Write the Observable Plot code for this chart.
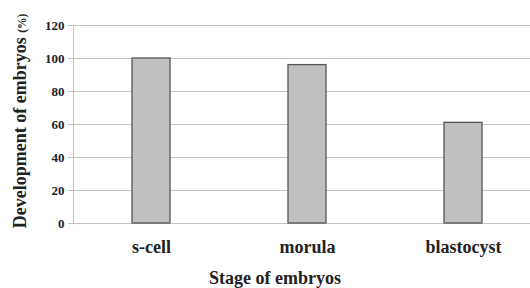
<!DOCTYPE html>
<html>
<head>
<meta charset="utf-8">
<script src="https://cdn.jsdelivr.net/npm/d3@7"></script>
<script src="https://cdn.jsdelivr.net/npm/@observablehq/plot@0.6"></script>
<style>
  html, body { margin: 0; padding: 0; background: #fff; }
  #chart svg { display: block; }
  #chart svg text { font-family: 'Liberation Serif', 'Times New Roman', serif !important; }
</style>
</head>
<body>
<div id="chart"></div>
<script>
const stages = ["s-cell", "morula", "blastocyst"];
const development = [100, 96, 61];
const yTicks = [0, 20, 40, 60, 80, 100, 120];
const yTitle = "Development of embryos";
const yUnit = "(%)";
const xTitle = "Stage of embryos";

const data = stages.map((s, i) => ({stage: s, value: development[i]}));
const serif = "'Liberation Serif', 'Times New Roman', serif";
const gridColor = "#c4c4c4";

const chart = Plot.plot({
  width: 530,
  height: 288,
  marginTop: 25,
  marginBottom: 65,
  marginLeft: 73,
  marginRight: 0,
  style: {fontFamily: serif, background: "#fff"},
  x: {domain: stages, range: [73, 541], paddingInner: 0.756, paddingOuter: 0.378},
  y: {domain: [0, 120], ticks: yTicks},
  marks: [
    Plot.gridY(yTicks, {stroke: gridColor, strokeOpacity: 1, strokeWidth: 1}),
    Plot.frame({anchor: "left", stroke: gridColor, strokeWidth: 1}),
    Plot.axisY(yTicks, {
      tickSize: 5, tickPadding: 4, stroke: gridColor, strokeOpacity: 1,
      fontSize: 13, fontWeight: "bold", fontFamily: serif, fill: "#222", label: null
    }),
    Plot.axisX({
      tickSize: 0, tickPadding: 17, fontSize: 18, fontWeight: "bold",
      fontFamily: serif, fill: "#222", label: null
    }),
    Plot.barY(data, {x: "stage", y: "value", fill: "#c0c0c0", stroke: "#555", strokeWidth: 1.3})
  ]
});

document.getElementById("chart").appendChild(chart);

const svg = d3.select(chart);
svg.selectAll("text").style("font-family", serif);

const t = svg.append("text")
  .attr("transform", "translate(26,121) rotate(-90)")
  .attr("text-anchor", "middle")
  .attr("font-family", serif)
  .attr("font-weight", "bold")
  .attr("font-size", 18)
  .attr("fill", "#222");
t.append("tspan").text(yTitle + " ");
t.append("tspan").attr("font-size", 11.5).text(yUnit);

svg.append("text")
  .attr("x", 275)
  .attr("y", 284)
  .attr("text-anchor", "middle")
  .attr("font-family", serif)
  .attr("font-weight", "bold")
  .attr("font-size", 18)
  .attr("fill", "#222")
  .text(xTitle);
</script>
</body>
</html>
